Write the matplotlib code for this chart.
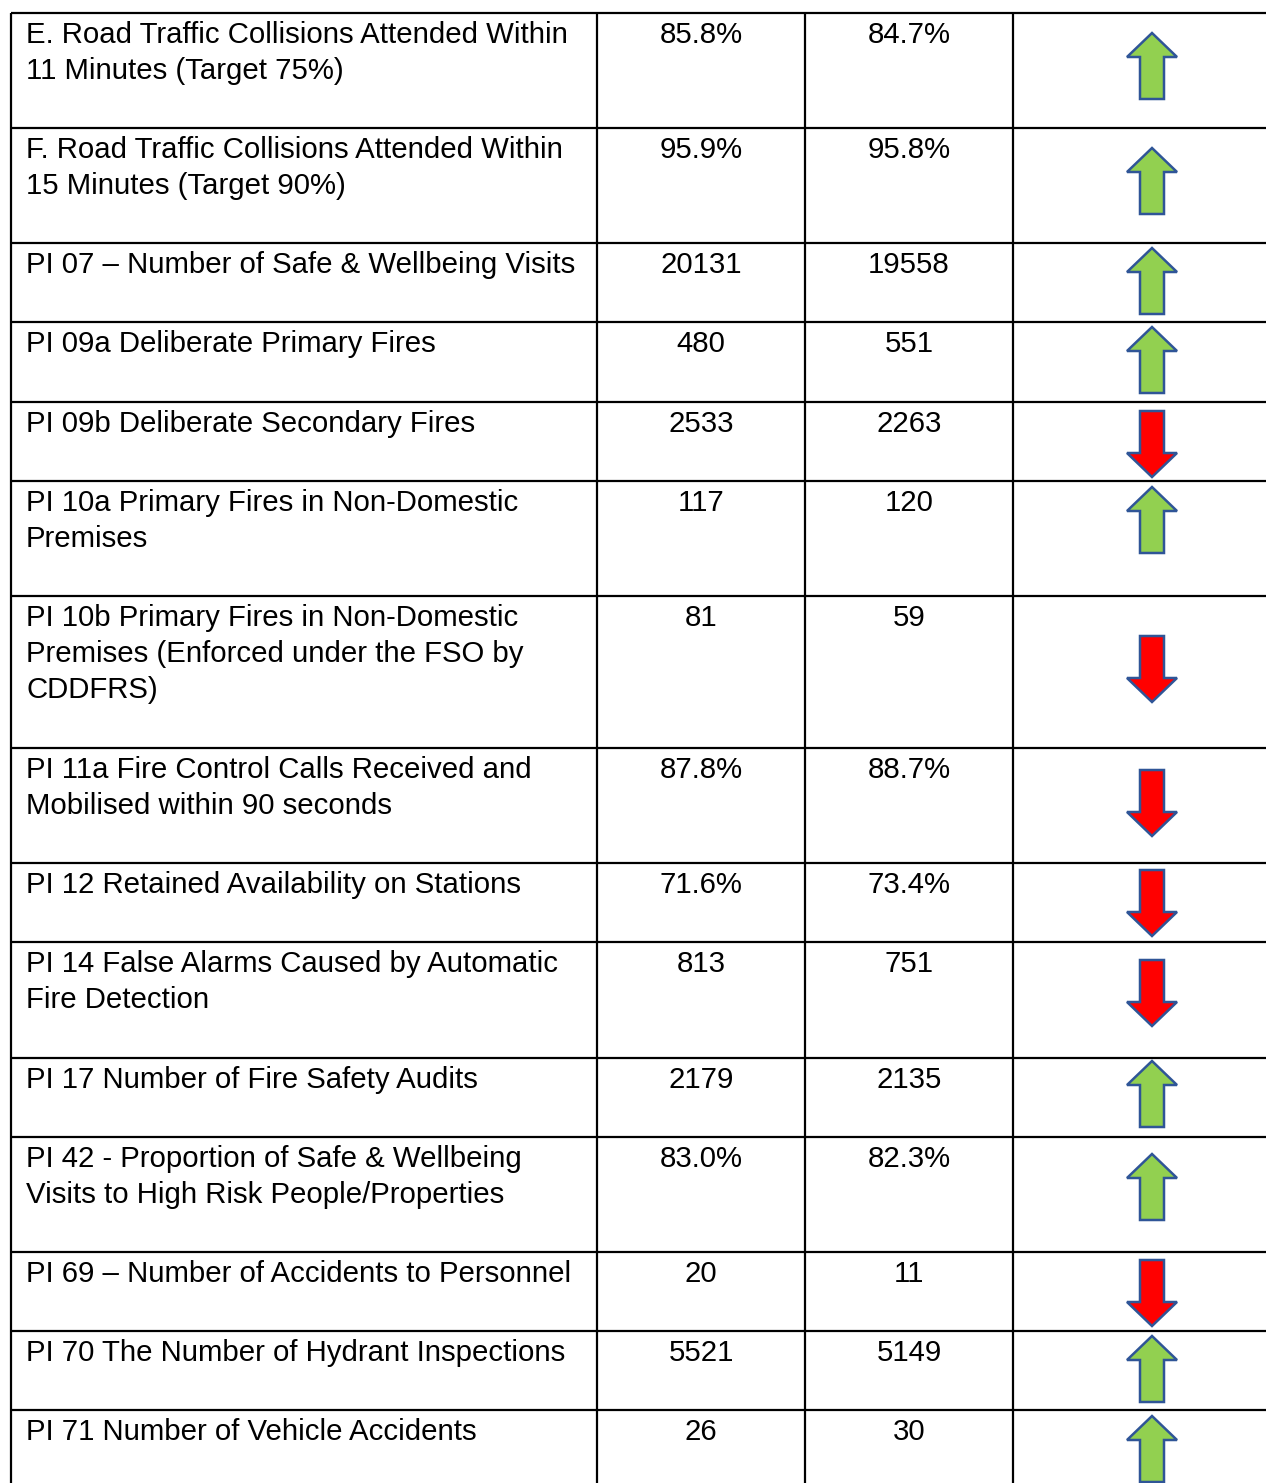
import matplotlib
matplotlib.use("Agg")
import matplotlib.pyplot as plt
from matplotlib.patches import Polygon

# ---- data ----
indicators = [
    ["E. Road Traffic Collisions Attended Within", "11 Minutes (Target 75%)"],
    ["F. Road Traffic Collisions Attended Within", "15 Minutes (Target 90%)"],
    ["PI 07 \u2013 Number of Safe & Wellbeing Visits"],
    ["PI 09a Deliberate Primary Fires"],
    ["PI 09b Deliberate Secondary Fires"],
    ["PI 10a Primary Fires in Non-Domestic", "Premises"],
    ["PI 10b Primary Fires in Non-Domestic", "Premises (Enforced under the FSO by", "CDDFRS)"],
    ["PI 11a Fire Control Calls Received and", "Mobilised within 90 seconds"],
    ["PI 12 Retained Availability on Stations"],
    ["PI 14 False Alarms Caused by Automatic", "Fire Detection"],
    ["PI 17 Number of Fire Safety Audits"],
    ["PI 42 - Proportion of Safe & Wellbeing", "Visits to High Risk People/Properties"],
    ["PI 69 \u2013 Number of Accidents to Personnel"],
    ["PI 70 The Number of Hydrant Inspections"],
    ["PI 71 Number of Vehicle Accidents"],
]
current = ["85.8%", "95.9%", "20131", "480", "2533", "117", "81", "87.8%",
           "71.6%", "813", "2179", "83.0%", "20", "5521", "26"]
previous = ["84.7%", "95.8%", "19558", "551", "2263", "120", "59", "88.7%",
            "73.4%", "751", "2135", "82.3%", "11", "5149", "30"]
direction = ["up", "up", "up", "up", "down", "up", "down", "down",
             "down", "down", "up", "up", "down", "up", "up"]

# ---- layout (pixels) ----
W, H = 1266, 1483
row_tops = [13, 128, 243, 322, 402, 481, 596, 748, 863, 942, 1058, 1137, 1252, 1331, 1410]
col_x = [11, 597, 805, 1013]
arrow_cy = [66, 181, 281, 360, 444, 520, 669, 803, 903, 993, 1094, 1187, 1293, 1369, 1449]
arrow_cx = 1152

fig = plt.figure(figsize=(W / 100, H / 100), dpi=100)
ax = fig.add_axes([0, 0, 1, 1])
ax.set_xlim(0, W)
ax.set_ylim(H, 0)
ax.axis("off")

lw = 1.6
# horizontal lines
for y in row_tops:
    ax.plot([col_x[0], W + 5], [y, y], color="black", lw=lw, solid_capstyle="butt")
# vertical lines
for x in col_x:
    ax.plot([x, x], [row_tops[0], H + 5], color="black", lw=lw, solid_capstyle="butt")

font = dict(family=["Liberation Sans", "DejaVu Sans"], fontsize=21.2, color="black")
line_gap = 36
base_off = 30

for i, lines in enumerate(indicators):
    top = row_tops[i]
    for j, ln in enumerate(lines):
        ax.text(26, top + base_off + j * line_gap, ln, ha="left", va="baseline", **font)
    ax.text((col_x[1] + col_x[2]) / 2, top + base_off, current[i],
            ha="center", va="baseline", **font)
    ax.text((col_x[2] + col_x[3]) / 2, top + base_off, previous[i],
            ha="center", va="baseline", **font)

# arrows
hw, bw, hh, total = 25, 12, 24, 66
for i, d in enumerate(direction):
    cy = arrow_cy[i]
    if d == "up":
        tip = cy - total / 2
        base = tip + hh
        bot = cy + total / 2
        pts = [(arrow_cx, tip), (arrow_cx + hw, base), (arrow_cx + bw, base),
               (arrow_cx + bw, bot), (arrow_cx - bw, bot), (arrow_cx - bw, base),
               (arrow_cx - hw, base)]
        fc = "#92D050"
    else:
        tip = cy + total / 2
        base = tip - hh
        top = cy - total / 2
        pts = [(arrow_cx, tip), (arrow_cx + hw, base), (arrow_cx + bw, base),
               (arrow_cx + bw, top), (arrow_cx - bw, top), (arrow_cx - bw, base),
               (arrow_cx - hw, base)]
        fc = "#FF0000"
    ax.add_patch(Polygon(pts, closed=True, facecolor=fc, edgecolor="#2F5597",
                         lw=1.8, joinstyle="miter"))

fig.savefig("out.png", dpi=100)
